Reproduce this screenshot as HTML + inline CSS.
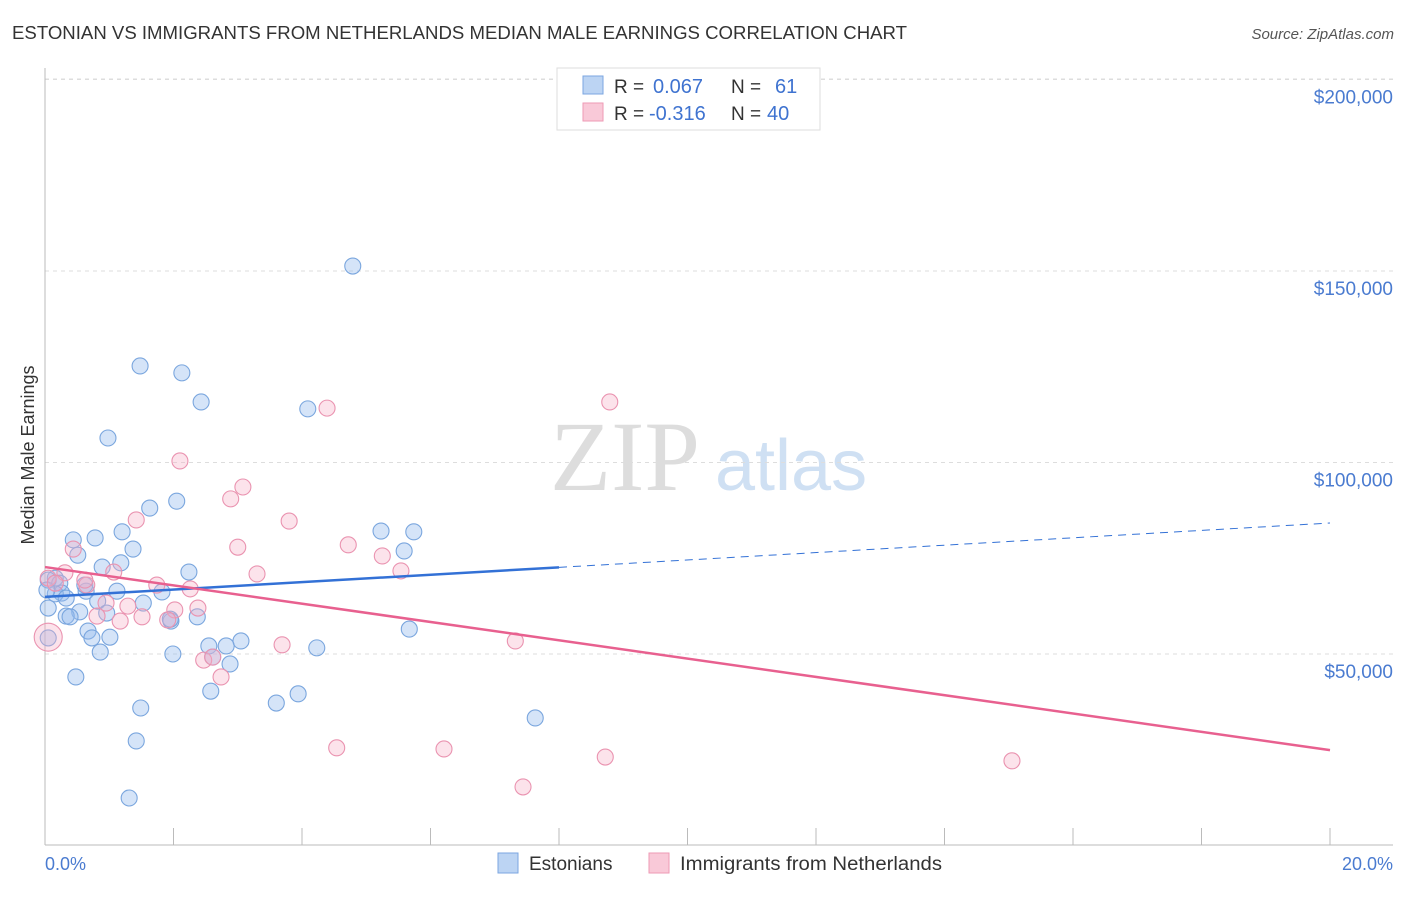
<!DOCTYPE html>
<html><head><meta charset="utf-8"><style>
body{margin:0;background:#fff;font-family:"Liberation Sans",sans-serif;}
</style></head><body>
<svg width="1406" height="892" viewBox="0 0 1406 892">
<text x="12" y="39" font-size="18" fill="#333" textLength="895" lengthAdjust="spacingAndGlyphs">ESTONIAN VS IMMIGRANTS FROM NETHERLANDS MEDIAN MALE EARNINGS CORRELATION CHART</text>
<text x="1394" y="39" font-size="15" fill="#555" text-anchor="end" font-style="italic">Source: ZipAtlas.com</text>
<text x="700" y="490" font-size="100" fill="#ddd" text-anchor="end" font-family="Liberation Serif,serif">ZIP</text>
<text x="715" y="490" font-size="72" fill="#cfe0f3">atlas</text>
<g id="grid"></g><g id="axes"></g><g id="pts"></g><g id="trend"></g>
<text transform="translate(34,455) rotate(-90)" font-size="18" fill="#333" text-anchor="middle">Median Male Earnings</text>
<text x="45" y="870" font-size="18" fill="#4a7bd0">0.0%</text>
<text x="1393" y="870" font-size="18" fill="#4a7bd0" text-anchor="end">20.0%</text>
<g>
<rect x="557" y="68" width="263" height="62" fill="#fff" stroke="#ddd"/>
<rect x="583" y="76" width="20" height="18" fill="#bcd4f3" stroke="#7ba6e0"/>
<rect x="583" y="103" width="20" height="18" fill="#f9c9d8" stroke="#ee9ab5"/>
<text x="614" y="93" font-size="19" fill="#333">R =</text>
<text x="653" y="93" font-size="20" fill="#3f73d0">0.067</text>
<text x="731" y="93" font-size="19" fill="#333">N =</text>
<text x="775" y="93" font-size="20" fill="#3f73d0">61</text>
<text x="614" y="120" font-size="19" fill="#333">R =</text>
<text x="649" y="120" font-size="20" fill="#3f73d0">-0.316</text>
<text x="731" y="120" font-size="19" fill="#333">N =</text>
<text x="767" y="120" font-size="20" fill="#3f73d0">40</text>
</g>
<g>
<rect x="498" y="853" width="20" height="20" fill="#bcd4f3" stroke="#7ba6e0"/>
<text x="529" y="870" font-size="19" fill="#333">Estonians</text>
<rect x="649" y="853" width="20" height="20" fill="#f9c9d8" stroke="#ee9ab5"/>
<text x="680" y="870" font-size="19" fill="#333" textLength="262" lengthAdjust="spacingAndGlyphs">Immigrants from Netherlands</text>
</g>
</svg>
<script>
const yTicks=[50000,100000,150000,200000];
const yTickLabels=["$50,000","$100,000","$150,000","$200,000"];
const xTicks=[0,2,4,6,8,10,12,14,16,18,20];
const blueX=[4.79,1.48,2.13,2.43,4.09,0.98,2.05,1.63,5.23,5.74,1.20,0.78,0.44,1.37,5.59,0.51,1.18,0.89,2.24,0.16,0.05,0.23,0.26,0.64,1.12,1.82,0.82,1.53,0.05,0.54,0.96,0.33,0.39,2.37,1.96,0.67,1.01,0.73,5.67,2.55,3.05,2.82,4.23,0.05,0.86,1.99,2.61,2.88,0.48,2.58,3.94,3.60,1.49,7.63,1.42,1.31,1.95,0.16,0.33,0.03,0.62];
const blueY=[151.3,125.2,123.4,115.8,114.0,106.4,89.9,88.1,82.1,81.9,81.9,80.3,79.8,77.4,76.9,75.8,73.8,72.7,71.4,69.8,69.3,68.5,65.9,66.4,66.4,66.2,63.8,63.3,62.0,61.0,60.7,59.9,59.7,59.7,58.6,56.0,54.4,54.2,56.5,52.1,53.4,52.1,51.6,54.2,50.5,50.0,49.2,47.4,44.0,40.3,39.6,37.2,35.9,33.3,27.3,12.4,59.1,65.7,64.6,66.7,68.0];
const pinkX=[8.79,4.39,2.10,3.08,2.89,1.42,3.80,4.72,3.00,5.25,0.44,5.54,3.30,1.07,0.31,0.05,0.16,0.65,1.74,2.26,0.95,2.38,2.02,1.29,1.51,0.81,1.17,1.91,3.69,7.32,2.47,2.61,2.74,4.54,6.21,8.72,15.05,7.44,0.05,0.62];
const pinkY=[115.8,114.2,100.4,93.6,90.5,85.0,84.7,78.5,77.9,75.6,77.4,71.7,70.9,71.4,71.2,69.8,68.5,68.0,68.0,67.0,63.3,62.0,61.5,62.5,59.7,59.9,58.6,58.9,52.4,53.4,48.4,49.2,44.0,25.5,25.2,23.1,22.1,15.3,54.4,69.3];
const blueTrend=[64.9,84.2];
const pinkTrend=[72.7,24.9];
const blueSolidEnd=8.0;
const NS="http://www.w3.org/2000/svg";
const X=v=>45+v*64.25, Y=v=>845.5-v/50000*191.5;
function mk(p,t,a){const e=document.createElementNS(NS,t);for(const k in a)e.setAttribute(k,a[k]);document.getElementById(p).appendChild(e);return e;}
yTicks.forEach((t,i)=>{
 const l=mk('grid','line',{x1:45,x2:1393,y1:Y(t),y2:Y(t),stroke:'#ddd','stroke-dasharray':'4,4'});
 
 
 const tx=mk('grid','text',{x:1393,y:Y(t)+24,'font-size':19,fill:'#4a7bd0','text-anchor':'end'});
 tx.textContent=yTickLabels[i];
 
 
});
const tg=mk('grid','line',{x1:45,x2:1393,y1:79,y2:79,stroke:'#ddd','stroke-dasharray':'4,4'});


const ya=mk('axes','line',{x1:45,x2:45,y1:68,y2:845,stroke:'#bbb'});


const xa=mk('axes','line',{x1:45,x2:1393,y1:845,y2:845,stroke:'#bbb'});


xTicks.forEach(t=>{
 const l=mk('axes','line',{x1:X(t),x2:X(t),y1:828,y2:845,stroke:'#bbb'});
 
 
});
blueX.forEach((x,i)=>{
 const c=mk('pts','circle',{cx:X(x),cy:Y(blueY[i]*1000),r:8,fill:'rgba(150,188,238,0.4)',stroke:'#7aa6de','stroke-width':1.1});
 
 
});
pinkX.forEach((x,i)=>{
 const c=mk('pts','circle',{cx:X(x),cy:Y(pinkY[i]*1000),r:i==38?14:8,fill:'rgba(245,175,198,0.35)',stroke:'#ea93b0','stroke-width':1.1});
 
 
});
const bAt=x=>blueTrend[0]+(blueTrend[1]-blueTrend[0])*x/20;
const b1=mk('trend','line',{x1:X(0),y1:Y(bAt(0)*1000),x2:X(blueSolidEnd),y2:Y(bAt(blueSolidEnd)*1000),stroke:'#3371d6','stroke-width':2.5});


const b2=mk('trend','line',{x1:X(blueSolidEnd),y1:Y(bAt(blueSolidEnd)*1000),x2:X(20),y2:Y(bAt(20)*1000),stroke:'#3371d6','stroke-width':1,'stroke-dasharray':'8,6'});


const p1=mk('trend','line',{x1:X(0),y1:Y(pinkTrend[0]*1000),x2:X(20),y2:Y(pinkTrend[1]*1000),stroke:'#e8608f','stroke-width':2.5});


</script>
</body></html>
